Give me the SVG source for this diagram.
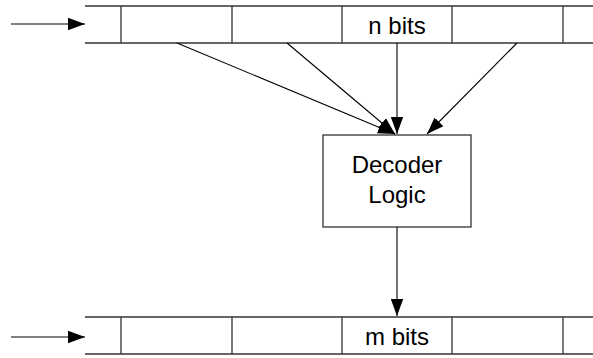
<svg xmlns="http://www.w3.org/2000/svg" width="593" height="358" viewBox="0 0 593 358">
  <defs>
    <marker id="head" markerUnits="userSpaceOnUse" markerWidth="18" markerHeight="14" refX="17" refY="7" orient="auto">
      <path d="M0,0.8 L17,7 L0,13.2 Z" fill="#000"/>
    </marker>
  </defs>
  <style>
    .reg { stroke: #333; stroke-width: 1.3; fill: none; }
    .box { stroke: #333; stroke-width: 1.3; fill: #fff; }
    .wire { stroke: #000; stroke-width: 1.1; fill: none; marker-end: url(#head); }
    .label { font-family: "Liberation Sans", Arial, sans-serif; font-size: 24px; fill: #000; text-anchor: middle; }
  </style>
  <rect width="593" height="358" fill="#fff"/>

  <!-- input register: n bits -->
  <g id="input-register">
    <line class="reg" x1="85" y1="6" x2="593" y2="6"/>
    <line class="reg" x1="85" y1="43" x2="593" y2="43"/>
    <line class="reg" x1="121" y1="6" x2="121" y2="43"/>
    <line class="reg" x1="232" y1="6" x2="232" y2="43"/>
    <line class="reg" x1="342" y1="6" x2="342" y2="43"/>
    <line class="reg" x1="452" y1="6" x2="452" y2="43"/>
    <line class="reg" x1="563" y1="6" x2="563" y2="43"/>
    <text class="label" x="397" y="34">n bits</text>
  </g>

  <!-- decoder block -->
  <g id="decoder">
    <rect class="box" x="323" y="135" width="148" height="92"/>
    <text class="label" x="397" y="173">Decoder</text>
    <text class="label" x="397" y="203">Logic</text>
  </g>

  <!-- output register: m bits -->
  <g id="output-register">
    <line class="reg" x1="85" y1="317" x2="593" y2="317"/>
    <line class="reg" x1="85" y1="354" x2="593" y2="354"/>
    <line class="reg" x1="121" y1="317" x2="121" y2="354"/>
    <line class="reg" x1="232" y1="317" x2="232" y2="354"/>
    <line class="reg" x1="342" y1="317" x2="342" y2="354"/>
    <line class="reg" x1="452" y1="317" x2="452" y2="354"/>
    <line class="reg" x1="563" y1="317" x2="563" y2="354"/>
    <text class="label" x="397" y="345">m bits</text>
  </g>

  <!-- connectors -->
  <g id="connectors">
    <line class="wire" x1="11" y1="24" x2="85" y2="24"/>
    <line class="wire" x1="11" y1="337" x2="85" y2="337"/>
    <line class="wire" x1="177" y1="43" x2="395" y2="134"/>
    <line class="wire" x1="287" y1="43" x2="395" y2="134"/>
    <line class="wire" x1="397" y1="43" x2="397" y2="134"/>
    <line class="wire" x1="517" y1="43" x2="427" y2="134"/>
    <line class="wire" x1="397" y1="227" x2="397" y2="316"/>
  </g>
</svg>
